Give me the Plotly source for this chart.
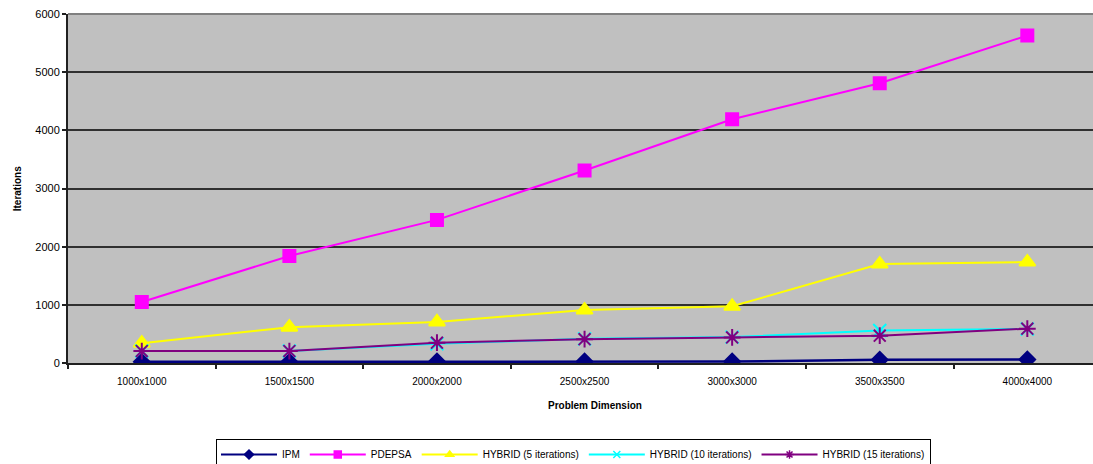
import plotly.graph_objects as go

# Problem sizes along the x axis
dimensions = ["1000x1000", "1500x1500", "2000x2000", "2500x2500",
              "3000x3000", "3500x3500", "4000x4000"]

# Iteration counts per method
ipm = [20, 20, 25, 25, 25, 55, 60]
pdepsa = [1050, 1840, 2460, 3310, 4190, 4810, 5630]
hybrid_5 = [340, 615, 705, 910, 975, 1700, 1735]
hybrid_10 = [205, 205, 330, 415, 445, 560, 585]
hybrid_15 = [205, 205, 350, 410, 440, 470, 590]

y_ticks = [0, 1000, 2000, 3000, 4000, 5000, 6000]

FONT = "Liberation Sans, Arial, sans-serif"

series = [
    ("IPM", ipm, "#000080", "diamond", 12, 2.5),
    ("PDEPSA", pdepsa, "#FF00FF", "square", 12, 2),
    ("HYBRID (5 iterations)", hybrid_5, "#FFFF00", "triangle-up", 14, 2),
    ("HYBRID (10 iterations)", hybrid_10, "#00FFFF", "x-thin-open", 13, 2),
    ("HYBRID (15 iterations)", hybrid_15, "#800080", "asterisk-open", 14, 2),
]

fig = go.Figure()
for name, vals, color, symbol, size, lw in series:
    fig.add_trace(go.Scatter(
        x=dimensions, y=vals, name=name, mode="lines+markers",
        line=dict(color=color, width=lw),
        marker=dict(symbol=symbol, size=size, color=color,
                    line=dict(color=color, width=2)),
        legendgroup=name, showlegend=False,
    ))

# Legend entries with smaller key markers
for name, vals, color, symbol, size, lw in series:
    fig.add_trace(go.Scatter(
        x=[None], y=[None], name=name, mode="lines+markers",
        line=dict(color=color, width=2),
        marker=dict(symbol=symbol, size=7, color=color,
                    line=dict(color=color, width=1.5)),
        legendgroup=name, showlegend=True,
    ))

W, H = 1093, 464
L, T, B, R = 68, 14, 101, 0

fig.update_layout(
    width=W, height=H,
    margin=dict(l=L, r=R, t=T, b=B, autoexpand=False),
    paper_bgcolor="white",
    plot_bgcolor="#C0C0C0",
    font=dict(family=FONT, size=10, color="black"),
    showlegend=True,
    legend=dict(
        orientation="h",
        x=(216 - L) / (W - L), xanchor="left",
        y=(H - B - 439) / (H - B - T), yanchor="top",
        bgcolor="white", bordercolor="#000000", borderwidth=1,
        font=dict(family=FONT, size=10, color="black"),
        itemsizing="trace", itemwidth=56,
    ),
    xaxis=dict(
        type="category",
        range=[-0.5, 6.445],
        showgrid=False,
        showline=True, linecolor="#202020", linewidth=2,
        ticks="outside", tickson="boundaries", ticklen=4,
        tickcolor="#202020", tickwidth=2,
        tickfont=dict(family=FONT, size=10, color="black"),
        ticklabelstandoff=8,
        zeroline=False,
    ),
    yaxis=dict(
        range=[0, 6000],
        tickvals=y_ticks,
        showgrid=True, gridcolor="#303030", gridwidth=2,
        showline=True, linecolor="#202020", linewidth=2,
        ticks="outside", ticklen=4, tickcolor="#202020", tickwidth=2,
        tickfont=dict(family=FONT, size=11, color="black"),
        zeroline=False,
    ),
    annotations=[
        dict(text="<b>Iterations</b>", textangle=-90,
             xref="paper", yref="paper", x=-0.049, y=0.5,
             xanchor="center", yanchor="middle", showarrow=False,
             font=dict(family=FONT, size=10, color="black")),
        dict(text="<b>Problem Dimension</b>",
             xref="paper", yref="paper", x=(595 - L) / (W - L),
             y=(H - B - 405) / (H - B - T),
             xanchor="center", yanchor="middle", showarrow=False,
             font=dict(family=FONT, size=10, color="black")),
    ],
    shapes=[
        # lighter frame line along the top of the plot area
        dict(type="line", xref="paper", yref="paper", x0=0, x1=1, y0=1, y1=1,
             line=dict(color="#808080", width=2), layer="above"),
    ],
)

fig.write_html("out.html")
